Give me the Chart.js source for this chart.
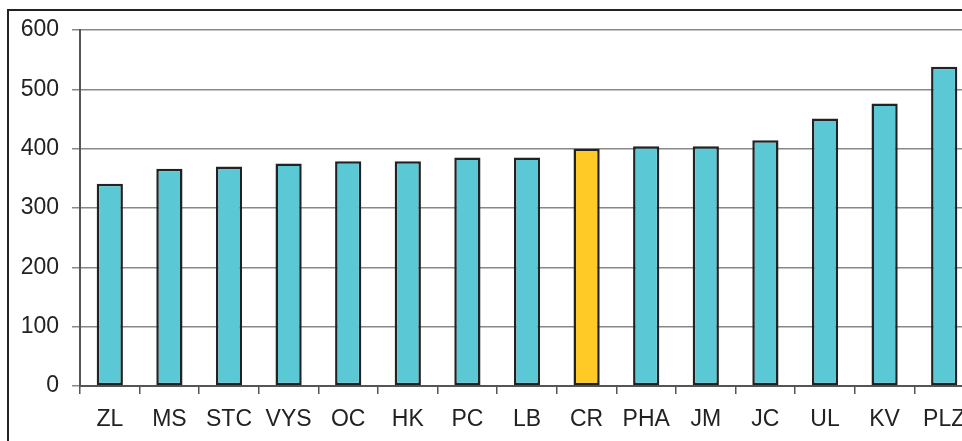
<!DOCTYPE html>
<html>
<head>
<meta charset="utf-8">
<script src="https://cdn.jsdelivr.net/npm/chart.js@4/dist/chart.umd.min.js"></script>
<style>
  html, body { margin: 0; padding: 0; background: #fff; overflow: hidden; width: 962px; height: 441px; }
  #frame { position: absolute; left: 7px; top: 9px; width: 3000px; height: 3000px; border: 2px solid #222; box-sizing: border-box; }
  #wrap { position: absolute; left: 0; top: 0; width: 1000px; height: 441px; }
</style>
</head>
<body>
<div id="frame"></div>
<div id="wrap"><canvas id="c"></canvas></div>
<script>
const categories = ["ZL", "MS", "STC", "VYS", "OC", "HK", "PC", "LB", "CR", "PHA", "JM", "JC", "UL", "KV", "PLZ"];
const values = [341, 366, 370, 375, 379, 379, 385, 385, 400, 404, 404, 414, 451, 476, 538];
const highlight = "CR";
const yTicks = [0, 100, 200, 300, 400, 500, 600];

const teal = "#5bc8d6";
const yellow = "#ffc926";
const colors = categories.map(c => c === highlight ? yellow : teal);
const font = { family: "'Liberation Sans', Arial, sans-serif", size: 23 };

new Chart(document.getElementById("c"), {
  type: "bar",
  data: {
    labels: categories,
    datasets: [{
      data: values,
      backgroundColor: colors,
      borderColor: "#222",
      borderWidth: 2.5,
      borderSkipped: false,
      categoryPercentage: 1,
      barPercentage: 0.44
    }]
  },
  options: {
    responsive: true,
    maintainAspectRatio: false,
    animation: false,
    devicePixelRatio: 1,
    layout: { padding: { top: 30, right: 26, bottom: 0, left: 0 } },
    plugins: { legend: { display: false }, tooltip: { enabled: false } },
    scales: {
      x: {
        offset: true,
        grid: { display: true, drawOnChartArea: false, drawTicks: true, tickLength: 8, color: "#555", lineWidth: 1.5, offset: true },
        border: { display: true, color: "#555", width: 2 },
        ticks: { color: "#222", font: font, padding: 12, maxRotation: 0, autoSkip: false },
        afterFit: s => { s.height = 55; }
      },
      y: {
        min: 0, max: 600,
        afterBuildTicks: s => { s.ticks = yTicks.map(v => ({ value: v })); },
        grid: { color: "#888", lineWidth: 1.5, tickLength: 8 },
        border: { display: true, color: "#555", width: 2 },
        ticks: { color: "#222", font: font, padding: 13 },
        afterFit: s => { s.width = 80; }
      }
    }
  }
});
</script>
</body>
</html>
